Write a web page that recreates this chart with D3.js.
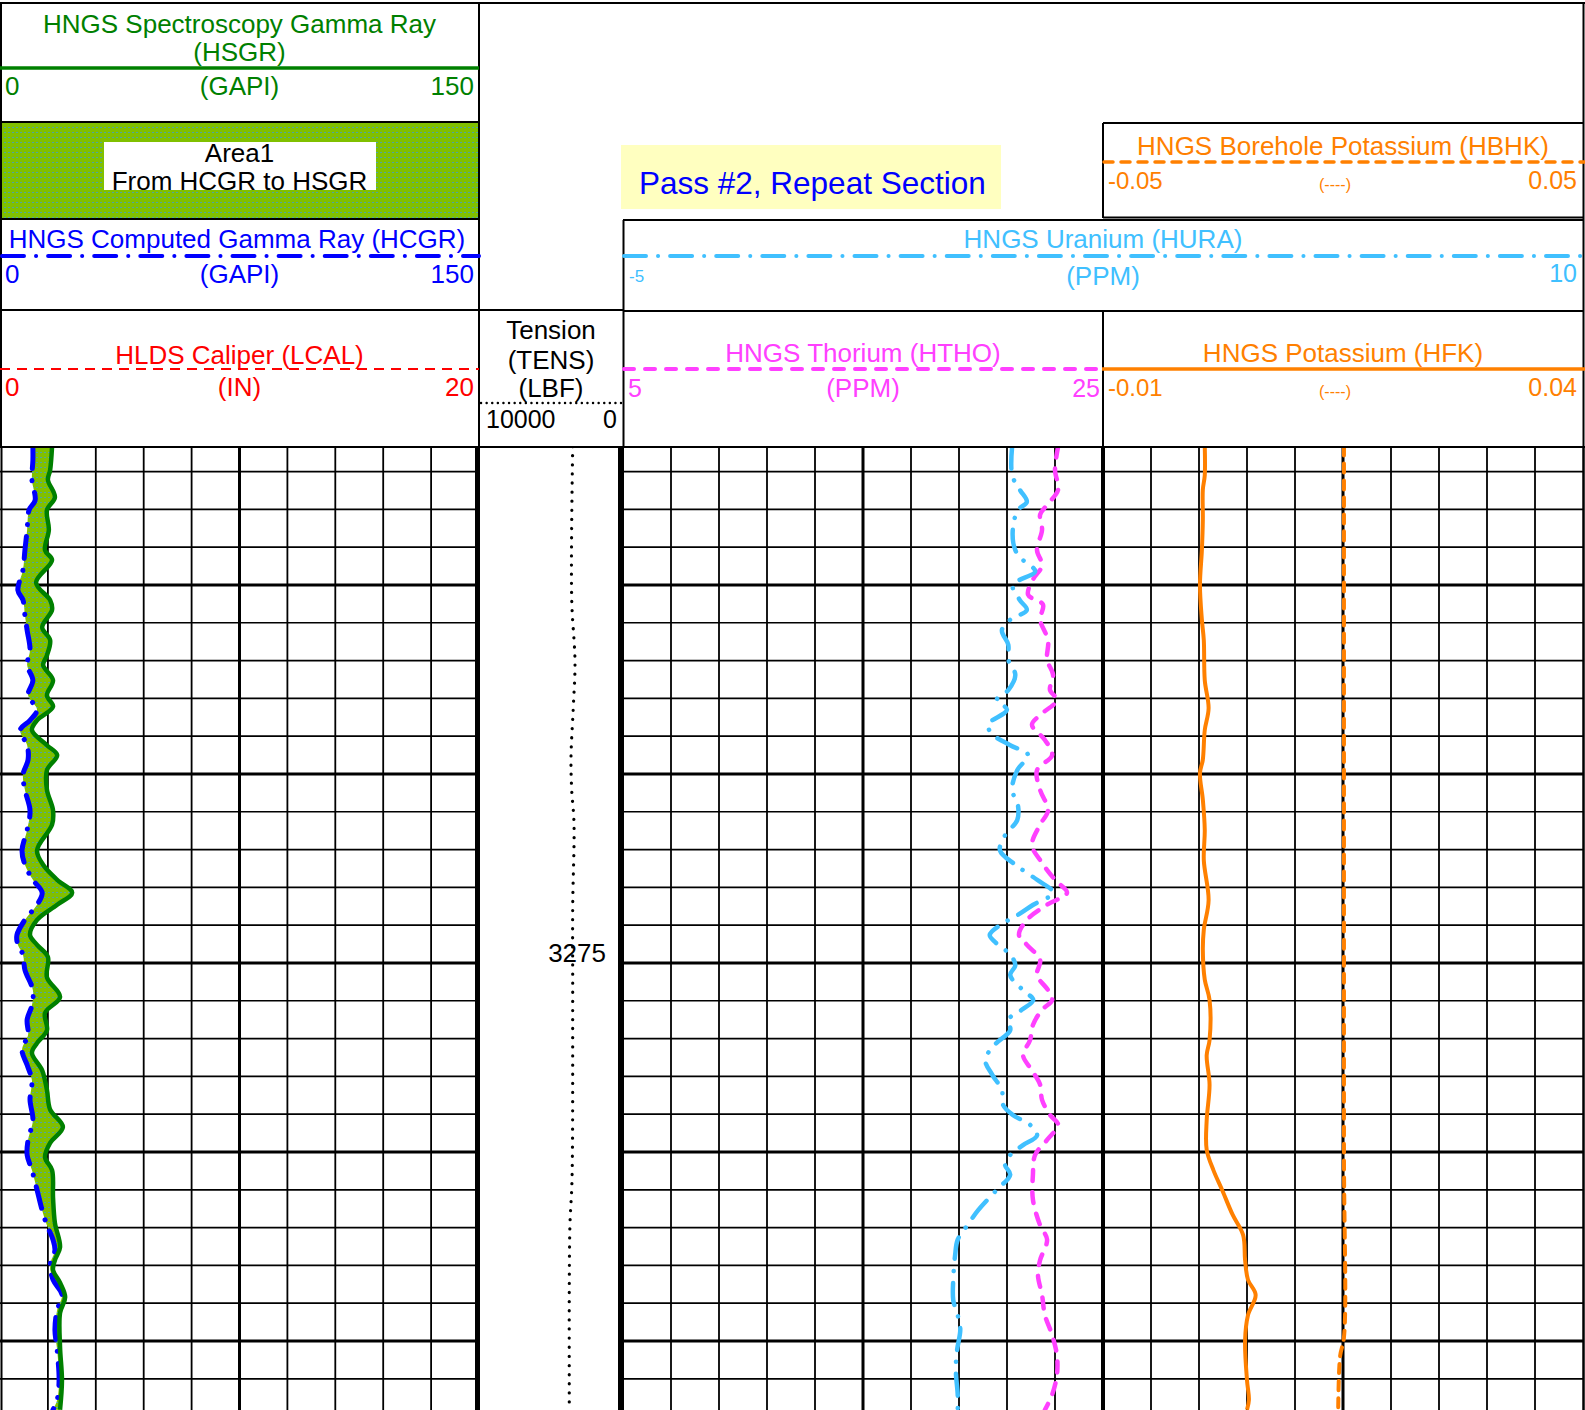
<!DOCTYPE html>
<html>
<head>
<meta charset="utf-8">
<script src="https://cdn.jsdelivr.net/npm/d3@7"></script>
<style>
  html, body { margin: 0; padding: 0; background: #fff; }
  svg { display: block; font-family: "Liberation Sans", Arial, Helvetica, sans-serif; }
</style>
</head>
<body>
<svg id="log" width="1585" height="1410"></svg>
<script>
// ---------- Log data: [depth (ft), value] ----------
const depthRange = [3206.75, 3334.13];
const depthLabels = [3275];

const gapiScale = [0, 150];
const caliperScale = [0, 20];
const tensionScale = [10000, 0];
const thoriumScale = [5, 25];
const uraniumScale = [-5, 10];
const potassiumScale = [-0.01, 0.04];
const bhkScale = [-0.05, 0.05];

// HSGR, spectroscopy gamma ray (GAPI)
const hsgr = [
  [3206.7,16.3],[3209.8,15.7],[3211.1,15.0],[3213.4,17.2],[3215.1,14.7],[3217.7,15.3],
  [3220.4,14.1],[3221.7,16.3],[3224.7,11.3],[3227.0,15.7],[3228.3,16.3],[3230.6,13.2],
  [3232.3,15.7],[3234.3,14.7],[3235.6,13.5],[3237.6,16.6],[3239.6,14.7],[3241.1,16.6],
  [3242.9,11.6],[3244.2,10.0],[3246.2,14.7],[3247.5,17.9],[3249.5,14.7],[3252.1,14.7],
  [3254.8,16.6],[3256.7,16.3],[3260.1,11.6],[3262.0,13.5],[3264.0,17.9],[3265.7,22.6],
  [3267.3,17.9],[3269.3,11.6],[3271.3,9.4],[3272.6,11.6],[3274.2,15.0],[3276.9,14.7],
  [3279.5,18.8],[3281.6,14.1],[3283.9,14.7],[3285.6,11.6],[3286.9,10.0],[3289.2,13.2],
  [3291.8,14.7],[3294.4,15.7],[3296.7,19.7],[3298.8,15.7],[3300.7,14.1],[3302.4,16.3],
  [3306.0,16.6],[3309.4,17.2],[3312.6,18.8],[3314.3,17.2],[3315.6,16.6],[3317.3,18.8],
  [3319.2,20.4],[3321.3,18.8],[3325.8,18.8],[3330.2,19.4],[3334.1,18.8]
];

// HCGR, computed gamma ray (GAPI)
const hcgr = [
  [3206.7,10.3],[3208.5,10.3],[3211.1,10.0],[3213.8,11.0],[3215.1,9.1],[3217.7,8.5],
  [3220.4,7.8],[3223.0,7.2],[3225.7,5.6],[3227.0,7.2],[3229.0,7.8],[3231.0,8.5],
  [3233.6,9.4],[3235.6,8.5],[3237.6,10.3],[3239.6,8.8],[3241.5,11.6],[3242.9,9.4],
  [3244.2,6.3],[3246.2,8.5],[3248.1,8.8],[3250.1,7.2],[3252.1,7.8],[3254.8,9.4],
  [3257.4,8.5],[3260.1,6.9],[3262.0,7.8],[3264.0,10.3],[3265.7,13.2],[3267.3,11.6],
  [3269.3,7.8],[3271.3,5.3],[3272.6,5.6],[3273.9,7.2],[3275.9,7.8],[3278.6,10.3],
  [3280.6,10.0],[3282.5,8.5],[3284.5,8.8],[3286.5,6.9],[3288.5,8.5],[3290.5,10.0],
  [3293.1,9.4],[3295.8,10.3],[3298.4,8.8],[3300.4,8.5],[3302.4,10.0],[3305.0,11.6],
  [3307.7,13.2],[3309.7,14.7],[3311.6,16.6],[3313.0,17.2],[3314.9,15.7],[3316.9,16.6],
  [3318.9,19.4],[3320.9,17.9],[3323.5,17.2],[3326.2,17.9],[3330.2,18.5],[3332.8,17.9],
  [3334.1,16.6]
];

// TENS, cable tension (LBF)
const tens = [
  [3206.7,3493],[3226.8,3563],[3235.2,3333],[3241.1,3451],[3247.8,3611],[3252.1,3563],
  [3256.5,3403],[3267.6,3493],[3279.9,3493],[3303.7,3542],[3309.4,3681],[3317.3,3729],
  [3334.1,3729]
];

// HTHO, thorium (PPM)
const htho = [
  [3206.7,23.13],[3209.8,23.0],[3212.4,23.13],[3214.4,22.67],[3215.7,22.38],[3217.7,22.46],
  [3220.4,22.25],[3222.4,22.46],[3224.3,22.08],[3226.3,21.88],[3227.6,22.5],[3229.6,22.38],
  [3232.3,22.71],[3234.9,22.67],[3236.9,22.92],[3238.9,22.79],[3240.2,23.08],[3242.2,22.38],
  [3243.5,22.04],[3245.5,22.58],[3247.5,22.88],[3249.5,22.25],[3252.1,22.38],[3254.8,22.71],
  [3256.7,22.38],[3259.4,22.04],[3261.4,22.38],[3264.0,23.0],[3265.7,23.5],[3267.3,22.67],
  [3269.3,21.83],[3271.3,21.5],[3272.6,21.83],[3274.6,22.38],[3276.6,22.25],[3278.6,22.71],
  [3279.9,22.88],[3281.2,22.46],[3283.2,22.08],[3285.2,21.96],[3287.2,21.67],[3289.2,22.04],
  [3291.1,22.38],[3293.1,22.46],[3295.1,22.79],[3296.4,23.13],[3298.4,22.67],[3300.4,22.17],
  [3303.0,22.08],[3306.3,22.08],[3309.7,22.38],[3311.6,22.67],[3314.3,22.38],[3316.3,22.29],
  [3318.9,22.46],[3321.6,22.58],[3324.2,22.88],[3326.9,23.08],[3329.5,23.08],[3332.1,22.88],
  [3334.1,22.58]
];

// HURA, uranium (PPM)
const hura = [
  [3206.7,1.08],[3210.5,1.08],[3212.4,1.20],[3214.0,1.31],[3215.1,1.17],[3217.7,1.09],
  [3220.4,1.13],[3221.7,1.25],[3223.2,1.44],[3225.0,1.09],[3227.0,1.20],[3228.3,1.31],
  [3229.6,1.05],[3231.0,0.92],[3232.9,1.02],[3234.9,1.02],[3236.9,1.13],[3238.9,1.02],
  [3240.2,0.84],[3241.5,1.00],[3243.5,0.70],[3244.8,0.78],[3246.2,1.05],[3247.5,1.33],
  [3249.5,1.16],[3252.1,1.08],[3254.1,1.17],[3256.1,1.16],[3258.1,0.97],[3260.1,0.89],
  [3262.0,1.13],[3264.0,1.47],[3265.7,1.72],[3267.3,1.41],[3268.7,1.16],[3270.0,0.89],
  [3271.3,0.73],[3272.2,0.81],[3273.9,1.05],[3275.3,1.13],[3276.6,1.05],[3278.6,1.25],
  [3279.9,1.41],[3281.2,1.23],[3282.5,1.02],[3283.9,1.05],[3285.8,0.81],[3287.8,0.66],
  [3289.8,0.77],[3291.8,0.92],[3293.8,0.94],[3295.1,1.09],[3296.4,1.36],[3297.8,1.47],
  [3299.1,1.25],[3300.4,1.05],[3301.7,0.97],[3303.0,1.05],[3305.0,0.84],[3307.7,0.55],
  [3309.7,0.38],[3311.6,0.23],[3313.6,0.19],[3316.9,0.16],[3319.6,0.16],[3321.6,0.23],
  [3323.5,0.27],[3326.2,0.22],[3328.8,0.20],[3332.1,0.23],[3334.1,0.23]
];

// HFK, formation potassium
const hfk = [
  [3206.7,0.0006],[3210.5,0.0006],[3212.4,0.0004],[3216.4,0.0004],[3220.4,0.0003],[3225.0,0.0001],
  [3229.6,0.0003],[3232.3,0.0005],[3237.6,0.0006],[3241.3,0.0010],[3244.2,0.0006],[3248.1,0.0004],
  [3249.9,0.0001],[3253.4,0.0004],[3257.4,0.0006],[3261.4,0.0005],[3266.7,0.0010],[3270.6,0.0005],
  [3273.3,0.0004],[3277.2,0.0006],[3279.9,0.0011],[3285.2,0.0011],[3287.2,0.0008],[3291.1,0.0011],
  [3295.8,0.0008],[3299.7,0.0008],[3302.4,0.0015],[3305.0,0.0024],[3308.3,0.0035],[3311.0,0.0046],
  [3314.3,0.0048],[3316.9,0.0051],[3318.9,0.0059],[3321.6,0.0051],[3324.9,0.0048],[3330.2,0.0050],
  [3332.8,0.0052],[3334.1,0.0050]
];

// HBHK, borehole potassium
const hbhk = [
  [3206.7,0.0002],[3250.0,0.0002],[3300.0,0.0002],[3324.5,0.0002],[3327.0,-0.0006],[3334.1,-0.0010]
];

// ---------- Layout ----------
const svg = d3.select("#log");
const gridTop = 447, gridBottom = 1410;
const T1 = [0, 479], TT = [479, 623], T3 = [623, 1103], T4 = [1103, 1583];
const FS = 26;

const y = d3.scaleLinear().domain(depthRange).range([gridTop, gridBottom]);
const xGR = d3.scaleLinear().domain(gapiScale).range(T1);
const xTENS = d3.scaleLinear().domain(tensionScale).range(TT);
const xTHO = d3.scaleLinear().domain(thoriumScale).range(T3);
const xURA = d3.scaleLinear().domain(uraniumScale).range([T3[0], T4[1]]);
const xHFK = d3.scaleLinear().domain(potassiumScale).range(T4);
const xHBHK = d3.scaleLinear().domain(bhkScale).range(T4);

const C = {
  green: "#008000", fill: "#80c000", blue: "#0000ff", red: "#ff0000",
  sky: "#40c0ff", magenta: "#ff40ff", orange: "#ff8000", black: "#000"
};
const DASHDOT = "22,12,0.1,12";

const defs = svg.append("defs");
const pat = defs.append("pattern").attr("id", "grFill")
  .attr("patternUnits", "userSpaceOnUse").attr("width", 4).attr("height", 5);
pat.append("rect").attr("width", 4).attr("height", 5).attr("fill", C.fill);
pat.append("rect").attr("x", 0).attr("y", 2).attr("width", 2).attr("height", 1)
  .attr("fill", "#3a9ae6").attr("opacity", 0.7);

function clip(id, x0, x1) {
  defs.append("clipPath").attr("id", id).append("rect")
    .attr("x", x0).attr("y", gridTop).attr("width", x1 - x0).attr("height", gridBottom - gridTop);
}
clip("c1", T1[0], T1[1] - 2);
clip("cT", TT[0] + 3, TT[1] - 3);
clip("c3", T3[0] + 2, T3[1]);
clip("c34", T3[0] + 2, T4[1]);
clip("c4", T4[0], T4[1]);

// ---------- Grid ----------
const grid = svg.append("g");
const minorDepths = d3.range(3210, 3335, 5);
[T1, T3, T4].forEach(t => {
  const step = (t[1] - t[0]) / 10;
  d3.range(1, 10).forEach(i => {
    grid.append("line")
      .attr("x1", t[0] + i * step).attr("x2", t[0] + i * step)
      .attr("y1", gridTop).attr("y2", gridBottom)
      .attr("stroke", C.black).attr("stroke-width", i === 5 ? 3 : 1.8);
  });
  minorDepths.forEach(d => {
    grid.append("line")
      .attr("x1", t[0]).attr("x2", t[1])
      .attr("y1", y(d)).attr("y2", y(d))
      .attr("stroke", C.black).attr("stroke-width", d % 25 === 0 ? 3 : 1.7);
  });
});
// track borders
[[1.5, 2], [477.5, 5], [621, 6], [1103, 4], [1583.5, 2.5]].forEach(([x, w]) => {
  grid.append("line").attr("x1", x).attr("x2", x).attr("y1", gridTop).attr("y2", gridBottom)
    .attr("stroke", C.black).attr("stroke-width", w);
});

// ---------- Curves ----------
const curve = d3.curveCatmullRom.alpha(0.5);
const lineGR = d3.line().x(d => xGR(d[1])).y(d => y(d[0])).curve(curve);

// shaded area between HCGR and HSGR
const areaPath = lineGR(hsgr) + lineGR(hcgr.slice().reverse()).replace(/^M/, "L") + "Z";
svg.append("path").attr("d", areaPath).attr("fill", "url(#grFill)")
  .attr("clip-path", "url(#c1)");

svg.append("path").attr("d", lineGR(hcgr)).attr("fill", "none")
  .attr("stroke", C.blue).attr("stroke-width", 5).attr("stroke-linecap", "round")
  .attr("stroke-dasharray", DASHDOT).attr("clip-path", "url(#c1)");
svg.append("path").attr("d", lineGR(hsgr)).attr("fill", "none")
  .attr("stroke", C.green).attr("stroke-width", 4.5).attr("clip-path", "url(#c1)");

const lineTENS = d3.line().x(d => xTENS(d[1])).y(d => y(d[0])).curve(curve);
svg.append("path").attr("d", lineTENS(tens)).attr("fill", "none")
  .attr("stroke", C.black).attr("stroke-width", 3.2).attr("stroke-linecap", "round")
  .attr("stroke-dasharray", "0.1,9").attr("clip-path", "url(#cT)");

const lineTHO = d3.line().x(d => xTHO(d[1])).y(d => y(d[0])).curve(curve);
svg.append("path").attr("d", lineTHO(htho)).attr("fill", "none")
  .attr("stroke", C.magenta).attr("stroke-width", 4.5).attr("stroke-linecap", "round")
  .attr("stroke-dasharray", "11,11").attr("clip-path", "url(#c3)");

const lineURA = d3.line().x(d => xURA(d[1])).y(d => y(d[0])).curve(curve);
svg.append("path").attr("d", lineURA(hura)).attr("fill", "none")
  .attr("stroke", C.sky).attr("stroke-width", 4.5).attr("stroke-linecap", "round")
  .attr("stroke-dasharray", DASHDOT).attr("clip-path", "url(#c34)");

const lineBHK = d3.line().x(d => xHBHK(d[1])).y(d => y(d[0])).curve(curve);
svg.append("path").attr("d", lineBHK(hbhk)).attr("fill", "none")
  .attr("stroke", C.orange).attr("stroke-width", 4).attr("stroke-linecap", "round")
  .attr("stroke-dasharray", "9,8").attr("clip-path", "url(#c4)");

const lineHFK = d3.line().x(d => xHFK(d[1])).y(d => y(d[0])).curve(curve);
svg.append("path").attr("d", lineHFK(hfk)).attr("fill", "none")
  .attr("stroke", C.orange).attr("stroke-width", 4).attr("clip-path", "url(#c4)");

// depth annotation
svg.selectAll("text.depth").data(depthLabels).join("text")
  .attr("class", "depth").attr("x", 606).attr("y", d => y(d) - 1)
  .attr("text-anchor", "end").attr("font-size", FS).attr("fill", C.black)
  .text(d => d);

// ---------- Header ----------
const hdr = svg.append("g");
function txt(x, yy, s, color, size = FS, anchor = "middle") {
  hdr.append("text").attr("x", x).attr("y", yy).attr("fill", color)
    .attr("font-size", size).attr("text-anchor", anchor).text(s);
}
function hline(x1, x2, yy, color, w, dash, cap) {
  const l = hdr.append("line").attr("x1", x1).attr("x2", x2).attr("y1", yy).attr("y2", yy)
    .attr("stroke", color).attr("stroke-width", w);
  if (dash) l.attr("stroke-dasharray", dash);
  if (cap) l.attr("stroke-linecap", cap);
}
function vline(x, y1, y2, w = 2) {
  hdr.append("line").attr("x1", x).attr("x2", x).attr("y1", y1).attr("y2", y2)
    .attr("stroke", C.black).attr("stroke-width", w);
}

// area-fill legend box
hdr.append("rect").attr("x", 0).attr("y", 122).attr("width", 479).attr("height", 97)
  .attr("fill", "url(#grFill)");
hdr.append("rect").attr("x", 104).attr("y", 142).attr("width", 272).attr("height", 48)
  .attr("fill", "#fff");
txt(239.5, 162, "Area1", C.black);
txt(239.5, 190, "From HCGR to HSGR", C.black);

// pass annotation
hdr.append("rect").attr("x", 621).attr("y", 145).attr("width", 380).attr("height", 64)
  .attr("fill", "#ffffc0");
txt(639, 194, "Pass #2, Repeat Section", C.blue, 31.5, "start");

// box outlines
hline(0, 1585, 3, C.black, 2);
hline(0, 479, 122, C.black, 2);
hline(0, 479, 219, C.black, 2);
hline(0, 623, 310, C.black, 2);
hline(0, 1585, 447, C.black, 2);
hline(1103, 1583, 123, C.black, 2);
hline(1103, 1583, 217.5, C.black, 2);
hline(623, 1583, 220, C.black, 2);
hline(623, 1583, 311, C.black, 2);
vline(1, 3, 447);
vline(479, 3, 447);
vline(623.5, 220, 447);
vline(1103, 123, 218);
vline(1103, 311, 447);
vline(1583.5, 3, 447);

// HSGR
txt(239.5, 33, "HNGS Spectroscopy Gamma Ray", C.green);
txt(239.5, 61, "(HSGR)", C.green);
hline(0, 479, 68, C.green, 3.5);
txt(5, 95, "0", C.green, FS, "start");
txt(239.5, 95, "(GAPI)", C.green);
txt(474, 95, "150", C.green, FS, "end");

// HCGR
txt(237, 248, "HNGS Computed Gamma Ray (HCGR)", C.blue);
hline(2, 479, 256, C.blue, 4, DASHDOT, "round");
txt(5, 283, "0", C.blue, FS, "start");
txt(239.5, 283, "(GAPI)", C.blue);
txt(474, 283, "150", C.blue, FS, "end");

// LCAL
txt(239.5, 364, "HLDS Caliper (LCAL)", C.red);
hline(0, 479, 369, C.red, 2.2, "10,7");
txt(5, 396, "0", C.red, FS, "start");
txt(239.5, 396, "(IN)", C.red);
txt(474, 396, "20", C.red, FS, "end");

// TENS
txt(551, 339, "Tension", C.black);
txt(551, 369, "(TENS)", C.black);
txt(551, 397, "(LBF)", C.black);
hline(481, 621, 403, C.black, 2.4, "0.1,5.5", "round");
txt(486, 428, "10000", C.black, 25, "start");
txt(617, 428, "0", C.black, 25, "end");

// HURA
txt(1103, 248, "HNGS Uranium (HURA)", C.sky);
hline(624, 1585, 256, C.sky, 4, DASHDOT, "round");
txt(629, 282, "-5", C.sky, 17, "start");
txt(1103, 285, "(PPM)", C.sky);
txt(1577, 282, "10", C.sky, 25, "end");

// HTHO
txt(863, 362, "HNGS Thorium (HTHO)", C.magenta);
hline(624, 1103, 369, C.magenta, 4, "10,11", "round");
txt(628, 397, "5", C.magenta, 25, "start");
txt(863, 397, "(PPM)", C.magenta);
txt(1100, 397, "25", C.magenta, 25, "end");

// HBHK
txt(1343, 155, "HNGS Borehole Potassium (HBHK)", C.orange);
hline(1104, 1585, 162, C.orange, 3.5, "9,8", "round");
txt(1108, 189, "-0.05", C.orange, 24, "start");
txt(1335, 190, "(----)", C.orange, 16);
txt(1577, 189, "0.05", C.orange, 25, "end");

// HFK
txt(1343, 362, "HNGS Potassium (HFK)", C.orange);
hline(1102, 1585, 369, C.orange, 3.5);
txt(1108, 396, "-0.01", C.orange, 24, "start");
txt(1335, 397, "(----)", C.orange, 16);
txt(1577, 396, "0.04", C.orange, 25, "end");
</script>
</body>
</html>
